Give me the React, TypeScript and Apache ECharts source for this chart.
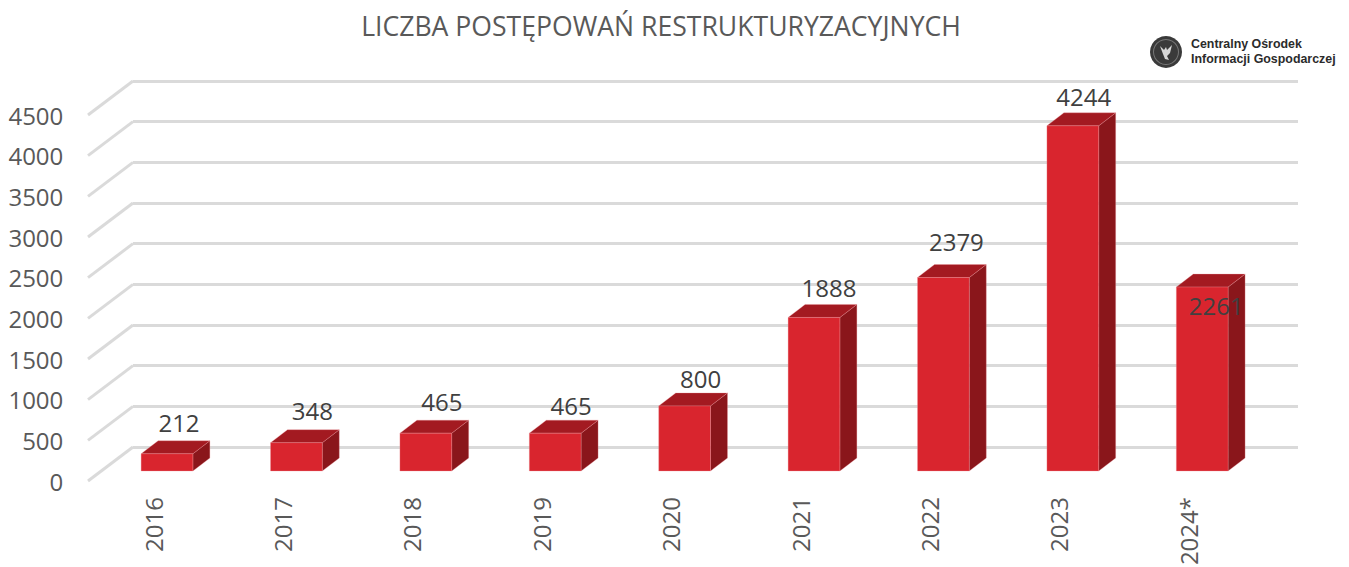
import React, { useEffect, useRef } from "react";
import * as echarts from "echarts";

const categories = ["2016", "2017", "2018", "2019", "2020", "2021", "2022", "2023", "2024*"];
const values = [212, 348, 465, 465, 800, 1888, 2379, 4244, 2261];
const titleText = "LICZBA POSTĘPOWAŃ RESTRUKTURYZACYJNYCH";
const logoLines = ["Centralny Ośrodek", "Informacji Gospodarczej"];
const wallTicks = [0, 500, 1000, 1500, 2000, 2500, 3000, 3500, 4000, 4500];

// label placement relative to the top-front-centre of each bar
const labelDx = [12, 16, 16, 16, 16, 15, 13, 11, 14];
const labelDy = [-31, -32, -32, -28, -27, -30, -36, -29, 18];

const FONT = '"Open Sans", sans-serif';
const DEPTH_X = 17;
const DEPTH_Y = 13;

const axisBase = (gridIndex: number) => ({
  gridIndex,
  show: false,
  min: 0,
  max: 4500,
  interval: 500,
  type: "value" as const,
});

export default function App() {
  const ref = useRef<HTMLDivElement>(null);
  useEffect(() => {
    const chart = echarts.init(ref.current!, undefined, { renderer: "svg" });
    const plotW = 1164.6;
    const plotH = 366;
    chart.setOption({
      animation: false,
      backgroundColor: "#ffffff",
      title: {
        text: titleText,
        left: 656,
        top: 7,
        textAlign: "center",
        textStyle: { fontFamily: FONT, fontSize: 26.6, fontWeight: 400, color: "#595959" },
      },
      grid: [
        { left: 88.3, top: 115, width: plotW, height: plotH, outerBoundsMode: "none" },
        { left: 133, top: 81, width: 1165, height: plotH, outerBoundsMode: "none" },
        { left: 102.3, top: 105, width: plotW, height: plotH, outerBoundsMode: "none" },
      ],
      xAxis: [
        {
          gridIndex: 0,
          type: "category",
          data: categories,
          axisLine: { show: false },
          axisTick: { show: false },
          axisLabel: {
            rotate: 90,
            margin: 16,
            fontFamily: FONT,
            fontSize: 24,
            color: "#595959",
          },
        },
        { gridIndex: 1, type: "category", data: categories, show: false },
        { gridIndex: 2, type: "category", data: categories, show: false },
      ],
      yAxis: [
        {
          gridIndex: 0,
          type: "value",
          min: 0,
          max: 4500,
          interval: 500,
          axisLine: { show: false },
          axisTick: { show: false },
          splitLine: { show: false },
          axisLabel: {
            margin: 25,
            fontFamily: FONT,
            fontSize: 24,
            color: "#595959",
            formatter: (v: number) => String(v),
          },
        },
        {
          ...axisBase(1),
          show: true,
          axisLine: { show: false },
          axisTick: { show: false },
          axisLabel: { show: false },
          splitLine: { show: true, lineStyle: { color: "#dadada", width: 3 } },
        },
        axisBase(2),
      ],
      series: [
        {
          type: "custom",
          name: "wall",
          xAxisIndex: 1,
          yAxisIndex: 1,
          silent: true,
          z: 1,
          data: wallTicks.map((t) => [0, t]),
          renderItem: (params: any, api: any) => {
            const y = api.coord([0, api.value(1)])[1];
            const x = params.coordSys.x;
            return {
              type: "line",
              shape: { x1: x, y1: y, x2: x - 45, y2: y + 34 },
              style: { stroke: "#dadada", lineWidth: 3 },
            };
          },
        },
        {
          type: "custom",
          name: "Liczba postępowań",
          xAxisIndex: 2,
          yAxisIndex: 2,
          silent: true,
          z: 3,
          clip: false,
          data: values.map((v, i) => [i, v]),
          renderItem: (params: any, api: any) => {
            const i = api.value(0);
            const v = api.value(1);
            const [cx, top] = api.coord([i, v]);
            const [, base] = api.coord([i, 0]);
            const w = api.size([1, 0])[0] * 0.4;
            const l = cx - w / 2;
            const r = cx + w / 2;
            const edge = { stroke: "rgba(240,150,155,0.3)", lineWidth: 1 };
            return {
              type: "group",
              children: [
                {
                  type: "polygon",
                  shape: { points: [[r, top], [r + DEPTH_X, top - DEPTH_Y], [r + DEPTH_X, base - DEPTH_Y], [r, base]] },
                  style: { fill: "#8a161b", ...edge },
                },
                {
                  type: "polygon",
                  shape: { points: [[l, top], [l + DEPTH_X, top - DEPTH_Y], [r + DEPTH_X, top - DEPTH_Y], [r, top]] },
                  style: { fill: "#a31a21", ...edge },
                },
                {
                  type: "rect",
                  shape: { x: l, y: top, width: w, height: base - top },
                  style: { fill: "#d9252e", ...edge },
                },
                {
                  type: "text",
                  z2: 10,
                  style: {
                    text: String(v),
                    x: cx + labelDx[i],
                    y: top + labelDy[i],
                    align: "center",
                    verticalAlign: "middle",
                    fontFamily: FONT,
                    fontSize: 24,
                    fill: "#404040",
                  },
                },
              ],
            };
          },
        },
      ],
      graphic: [
        { type: "circle", shape: { cx: 1166, cy: 52, r: 16 }, style: { fill: "#3a3a3a" } },
        { type: "ring", shape: { cx: 1166, cy: 52, r: 13, r0: 12 }, style: { fill: "#777777" } },
        {
          type: "polygon",
          shape: {
            points: [
              [1160, 46], [1164, 50], [1166, 47], [1167, 50], [1172, 45],
              [1170, 53], [1167, 56], [1169, 60], [1165, 59], [1163, 54],
            ],
          },
          style: { fill: "#d8d8d8" },
        },
        {
          type: "text",
          style: {
            text: logoLines[0],
            x: 1191,
            y: 44,
            verticalAlign: "middle",
            fontFamily: '"Liberation Sans", sans-serif',
            fontWeight: 700,
            fontSize: 12.4,
            fill: "#2b2b2b",
          },
        },
        {
          type: "text",
          style: {
            text: logoLines[1],
            x: 1191,
            y: 59,
            verticalAlign: "middle",
            fontFamily: '"Liberation Sans", sans-serif',
            fontWeight: 700,
            fontSize: 12.4,
            fill: "#2b2b2b",
          },
        },
      ],
    });
    return () => chart.dispose();
  }, []);
  return <div ref={ref} style={{ position: "absolute", left: 0, top: 0, width: 1349, height: 567 }} />;
}
